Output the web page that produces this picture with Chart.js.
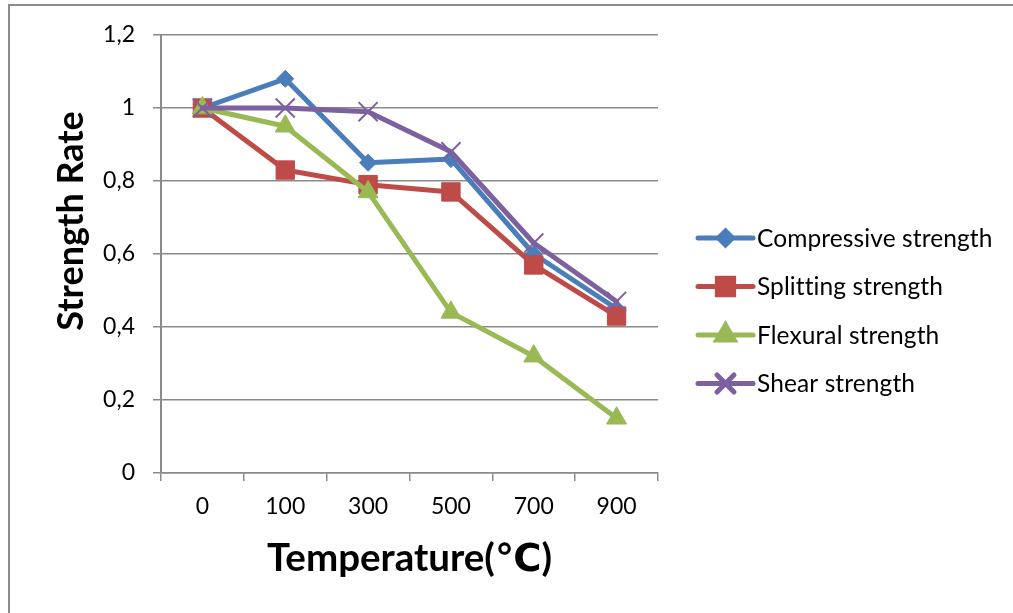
<!DOCTYPE html>
<html>
<head>
<meta charset="utf-8">
<script src="https://cdn.jsdelivr.net/npm/chart.js@4.4.1/dist/chart.umd.min.js"></script>
<style>
  html, body { margin: 0; padding: 0; background: #ffffff; }
  canvas { display: block; }
</style>
</head>
<body>
<canvas id="chart" width="1013" height="613"></canvas>
<script>
// Temperature steps (°C) along the x axis
const categories = ['0', '100', '300', '500', '700', '900'];

// Residual strength ratios after heating
const compressive = [1, 1.08, 0.85, 0.86, 0.60, 0.45];
const splitting   = [1, 0.83, 0.79, 0.77, 0.57, 0.43];
const flexural    = [1, 0.95, 0.77, 0.44, 0.32, 0.15];
const shear       = [1, 1.00, 0.99, 0.88, 0.63, 0.47];

// Value axis range
const yMin = 0;
const yMax = 1.2;
const yStep = 0.2;

const seriesNames = ['Compressive strength', 'Splitting strength', 'Flexural strength', 'Shear strength'];
const seriesColors = ['#4A7EBB', '#BE4B48', '#98B954', '#7D60A0'];

const FONT = "Lato, 'Open Sans', 'DejaVu Sans', sans-serif";
const GRID = '#8a8a8a';

// Marker styles per series: chart marker / legend marker
const markers = [
  { style: 'rectRot',  radius: 8.5, legendRadius: 7,   border: 1 },
  { style: 'rect',     radius: 13,  legendRadius: 11.5, border: 1 },
  { style: 'triangle', radius: 11.5, legendRadius: 10, border: 1 },
  { style: 'crossRot', radius: 13.5, legendRadius: 12, border: 2 }
];

const seriesValues = [compressive, splitting, flexural, shear];

const datasets = seriesValues.map((vals, i) => ({
  label: seriesNames[i],
  data: vals,
  borderColor: seriesColors[i],
  backgroundColor: seriesColors[i],
  borderWidth: 5,
  borderCapStyle: 'round',
  borderJoinStyle: 'round',
  pointStyle: markers[i].style,
  pointRadius: markers[i].radius,
  pointHoverRadius: markers[i].radius,
  pointBorderWidth: markers[i].border,
  pointBorderColor: seriesColors[i],
  pointBackgroundColor: seriesColors[i],
  tension: 0,
  fill: false,
  order: seriesValues.length - i
}));

// White page with the frame lines along the top and left edges
const framePlugin = {
  id: 'frame',
  beforeDraw(chart) {
    const ctx = chart.ctx;
    ctx.save();
    ctx.fillStyle = '#ffffff';
    ctx.fillRect(0, 0, chart.width, chart.height);
    ctx.strokeStyle = '#8c8c8c';
    ctx.lineWidth = 2;
    ctx.beginPath();
    ctx.moveTo(9, chart.height);
    ctx.lineTo(9, 5);
    ctx.lineTo(chart.width, 5);
    ctx.stroke();
    ctx.restore();
  }
};

// Vertical value-axis title, set a little above the middle of the axis
const yTitle = {
  id: 'yTitle',
  afterDraw(chart) {
    const ctx = chart.ctx;
    ctx.save();
    ctx.translate(71, 221);
    ctx.rotate(-Math.PI / 2);
    ctx.fillStyle = '#000000';
    ctx.font = "bold 36px " + FONT;
    ctx.textAlign = 'center';
    ctx.textBaseline = 'middle';
    ctx.fillText('Strength Rate', 0, 0);
    ctx.restore();
  }
};

// Legend on the right: short line with the series marker, then the name
const sideLegend = {
  id: 'sideLegend',
  afterDraw(chart) {
    const ctx = chart.ctx;
    const x0 = 698, x1 = 753, textX = 757;
    const yStart = 238, gap = 48.5;
    ctx.save();
    chart.data.datasets.forEach((ds, i) => {
      const y = yStart + i * gap;
      ctx.strokeStyle = ds.borderColor;
      ctx.lineWidth = 5;
      ctx.lineCap = 'round';
      ctx.beginPath();
      ctx.moveTo(x0, y);
      ctx.lineTo(x1, y);
      ctx.stroke();
      Chart.helpers.drawPoint(ctx, {
        pointStyle: markers[i].style,
        radius: markers[i].legendRadius,
        borderWidth: markers[i].border,
        rotation: 0
      }, (x0 + x1) / 2, y);
      ctx.fillStyle = ds.backgroundColor;
      ctx.strokeStyle = ds.borderColor;
      ctx.lineWidth = markers[i].border;
      ctx.fill();
      ctx.stroke();
      ctx.fillStyle = '#000000';
      ctx.font = "24.5px " + FONT;
      if ('letterSpacing' in ctx) ctx.letterSpacing = '0.1px';
      ctx.textBaseline = 'middle';
      ctx.textAlign = 'left';
      ctx.fillText(ds.label, textX, y + 1);
      if ('letterSpacing' in ctx) ctx.letterSpacing = '0px';
    });
    ctx.restore();
  }
};

new Chart(document.getElementById('chart'), {
  type: 'line',
  data: { labels: categories, datasets },
  options: {
    responsive: false,
    animation: false,
    devicePixelRatio: 1,
    layout: { padding: { top: 35, right: 355, bottom: 0, left: 0 } },
    plugins: {
      legend: { display: false },
      tooltip: { enabled: false }
    },
    scales: {
      x: {
        type: 'category',
        offset: true,
        afterFit(scale) { scale.height = 140; },
        grid: {
          offset: true,
          drawOnChartArea: false,
          drawTicks: true,
          tickLength: 8,
          color: GRID,
          lineWidth: 1.5
        },
        border: { display: true, color: GRID, width: 1.5 },
        ticks: {
          color: '#000000',
          font: { family: FONT, size: 23 },
          padding: 12
        },
        title: {
          display: true,
          text: 'Temperature(℃)',
          color: '#000000',
          font: { family: FONT, size: 38.5, weight: 'bold' },
          padding: { top: 0, bottom: 31 }
        }
      },
      y: {
        min: yMin,
        max: yMax,
        afterFit(scale) { scale.width = 161; },
        ticks: {
          stepSize: yStep,
          color: '#000000',
          font: { family: FONT, size: 23 },
          padding: 18,
          callback: (v) => String(Math.round(v * 10) / 10).replace('.', ',')
        },
        grid: {
          drawOnChartArea: true,
          drawTicks: true,
          tickLength: 8,
          color: GRID,
          lineWidth: 1.5
        },
        border: { display: true, color: GRID, width: 2 },
        title: { display: false }
      }
    }
  },
  plugins: [framePlugin, yTitle, sideLegend]
});
</script>
</body>
</html>
